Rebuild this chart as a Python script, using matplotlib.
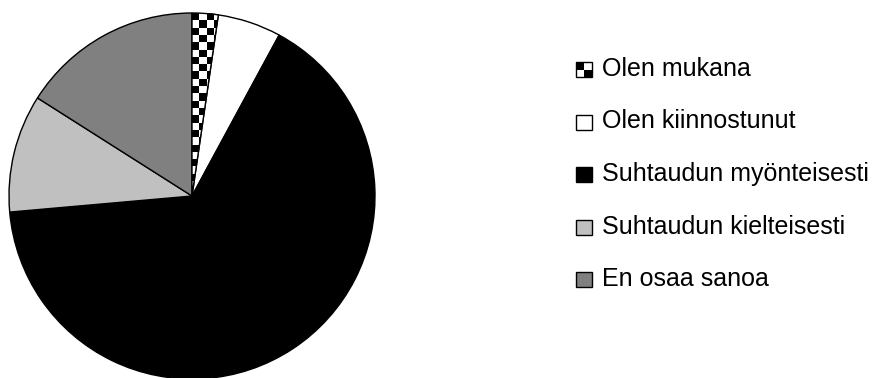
import numpy as np
import matplotlib
matplotlib.use("Agg")
import matplotlib.pyplot as plt
from matplotlib.patches import Rectangle, Wedge
from matplotlib.legend_handler import HandlerBase

labels = ["Olen mukana", "Olen kiinnostunut", "Suhtaudun myönteisesti",
          "Suhtaudun kielteisesti", "En osaa sanoa"]
shares = [2.3, 5.6, 65.7, 10.4, 16.0]
colors = ["white", "white", "black", "#c0c0c0", "#808080"]

plt.rcParams["font.family"] = ["Liberation Sans", "DejaVu Sans"]

fig = plt.figure(figsize=(8.73, 3.78), dpi=100)
W, H = 873, 378
cx, cy, r = 192, 196, 183
ax = fig.add_axes([(cx - r) / W, (H - cy - r) / H, 2 * r / W, 2 * r / H])

wedges, _ = ax.pie(shares, colors=colors, startangle=90, counterclock=False,
                   wedgeprops=dict(edgecolor="black", linewidth=1.0))

# checkerboard fill for the first slice
cell = 7.3 / r
n = int(2 / cell) + 2
board = (np.indices((n, n)).sum(axis=0) % 2).astype(float)
img = ax.imshow(board, cmap="gray_r", vmin=0, vmax=1, interpolation="nearest",
                extent=(-n * cell / 2, n * cell / 2, 1 - n * cell / 2, 1 + n * cell / 2),
                origin="lower", zorder=wedges[0].get_zorder() + 0.1)
img.set_clip_path(wedges[0])
ax.add_patch(Wedge((0, 0), 1, wedges[0].theta1, wedges[0].theta2,
                   facecolor="none", edgecolor="black", linewidth=1.0, zorder=5))
ax.set_xlim(-1, 1)
ax.set_ylim(-1, 1)
ax.set_aspect("equal")
ax.axis("off")


class CheckerHandler(HandlerBase):
    def create_artists(self, legend, orig, xd, yd, w, h, fontsize, trans):
        s = h
        x = xd + (w - s) / 2
        return [
            Rectangle((x, yd), s, s, facecolor="white", edgecolor="black",
                      linewidth=1.0, transform=trans),
            Rectangle((x, yd + s / 2), s / 2, s / 2, facecolor="black",
                      edgecolor="none", transform=trans),
            Rectangle((x + s / 2, yd), s / 2, s / 2, facecolor="black",
                      edgecolor="none", transform=trans),
        ]


class SquareHandler(HandlerBase):
    def create_artists(self, legend, orig, xd, yd, w, h, fontsize, trans):
        s = h
        x = xd + (w - s) / 2
        return [Rectangle((x, yd), s, s, facecolor=orig.get_facecolor(),
                          edgecolor="black", linewidth=1.0, transform=trans)]


handles = [Rectangle((0, 0), 1, 1, facecolor=c) for c in colors]
hmap = {handles[0]: CheckerHandler()}
for hd in handles[1:]:
    hmap[hd] = SquareHandler()

fig.legend(handles, labels, handler_map=hmap, loc="upper left",
           bbox_to_anchor=(577 / W, 1 - 57 / H), frameon=False,
           fontsize=18, labelspacing=1.14, handlelength=0.56, handleheight=0.56,
           handletextpad=0.45, borderpad=0, borderaxespad=0)

fig.savefig("out.png", dpi=100, facecolor="white")
